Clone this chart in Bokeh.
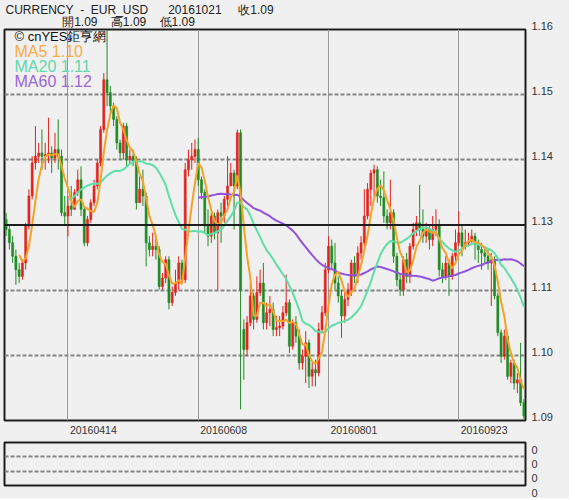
import numpy as np
import pandas as pd
from bokeh.plotting import figure
from bokeh.layouts import column
from bokeh.models import (ColumnDataSource, Range1d, FixedTicker, Span, Title, Label,
                          LinearAxis, CustomJSTickFormatter)
from bokeh.embed import file_html
from bokeh.resources import INLINE

# ---------------- data ----------------
symbol = "EUR_USD"
last_date = "20161021"

open_ = [
    1.1260, 1.1242, 1.1218, 1.1194, 1.1170, 1.1158, 1.1182, 1.1248, 1.1302, 1.1361,
    1.1373, 1.1379, 1.1373, 1.1376, 1.1379, 1.1370, 1.1385, 1.1373, 1.1272, 1.1266,
    1.1284, 1.1278, 1.1308, 1.1331, 1.1278, 1.1218, 1.1260, 1.1290, 1.1320, 1.1361,
    1.1421, 1.1510, 1.1487, 1.1463, 1.1439, 1.1397, 1.1379, 1.1427, 1.1367, 1.1373,
    1.1364, 1.1290, 1.1314, 1.1302, 1.1218, 1.1206, 1.1212, 1.1206, 1.1140, 1.1155,
    1.1188, 1.1111, 1.1129, 1.1146, 1.1182, 1.1152, 1.1349, 1.1367, 1.1373, 1.1385,
    1.1331, 1.1308, 1.1248, 1.1230, 1.1266, 1.1236, 1.1272, 1.1266, 1.1296, 1.1320,
    1.1343, 1.1320, 1.1415, 1.1063, 1.1027, 1.1075, 1.1123, 1.1081, 1.1129, 1.1146,
    1.1075, 1.1093, 1.1099, 1.1063, 1.1066, 1.1069, 1.1093, 1.1111, 1.1033, 1.1075,
    1.1051, 1.1003, 1.1015, 1.1039, 1.0979, 1.0991, 1.0985, 1.1063, 1.1093, 1.1170,
    1.1212, 1.1182, 1.1146, 1.1123, 1.1087, 1.1117, 1.1134, 1.1182, 1.1158, 1.1200,
    1.1218, 1.1266, 1.1314, 1.1343, 1.1349, 1.1302, 1.1299, 1.1266, 1.1254, 1.1272,
    1.1194, 1.1152, 1.1134, 1.1188, 1.1158, 1.1212, 1.1242, 1.1254, 1.1242, 1.1230,
    1.1242, 1.1224, 1.1242, 1.1248, 1.1170, 1.1158, 1.1182, 1.1158, 1.1194, 1.1218,
    1.1236, 1.1212, 1.1218, 1.1221, 1.1230, 1.1215, 1.1206, 1.1200, 1.1194, 1.1182,
    1.1188, 1.1123, 1.1057, 1.1015, 1.1051, 1.0979, 1.1003, 1.0967, 1.0973, 1.0932,
]
high = [
    1.1272, 1.1251, 1.1230, 1.1206, 1.1182, 1.1188, 1.1254, 1.1314, 1.1373, 1.1427,
    1.1397, 1.1421, 1.1397, 1.1442, 1.1391, 1.1415, 1.1439, 1.1385, 1.1302, 1.1302,
    1.1320, 1.1314, 1.1349, 1.1355, 1.1284, 1.1266, 1.1296, 1.1331, 1.1367, 1.1427,
    1.1522, 1.1600, 1.1499, 1.1469, 1.1445, 1.1403, 1.1433, 1.1433, 1.1385, 1.1385,
    1.1373, 1.1337, 1.1349, 1.1308, 1.1230, 1.1236, 1.1230, 1.1212, 1.1164, 1.1194,
    1.1194, 1.1140, 1.1170, 1.1194, 1.1188, 1.1361, 1.1385, 1.1397, 1.1403, 1.1406,
    1.1337, 1.1314, 1.1278, 1.1272, 1.1272, 1.1278, 1.1290, 1.1302, 1.1373, 1.1361,
    1.1349, 1.1421, 1.1421, 1.1081, 1.1087, 1.1146, 1.1129, 1.1158, 1.1170, 1.1182,
    1.1111, 1.1123, 1.1111, 1.1087, 1.1087, 1.1105, 1.1161, 1.1117, 1.1081, 1.1087,
    1.1063, 1.1027, 1.1060, 1.1045, 1.1003, 1.1009, 1.1075, 1.1105, 1.1182, 1.1230,
    1.1224, 1.1218, 1.1158, 1.1134, 1.1129, 1.1146, 1.1188, 1.1194, 1.1212, 1.1230,
    1.1314, 1.1325, 1.1349, 1.1358, 1.1355, 1.1331, 1.1346, 1.1278, 1.1331, 1.1278,
    1.1200, 1.1164, 1.1194, 1.1200, 1.1218, 1.1254, 1.1266, 1.1322, 1.1278, 1.1254,
    1.1248, 1.1266, 1.1278, 1.1260, 1.1182, 1.1194, 1.1188, 1.1200, 1.1242, 1.1275,
    1.1248, 1.1242, 1.1236, 1.1242, 1.1236, 1.1224, 1.1218, 1.1212, 1.1206, 1.1200,
    1.1194, 1.1129, 1.1063, 1.1063, 1.1057, 1.1009, 1.1009, 1.0985, 1.1039, 1.0938,
]
low = [
    1.1230, 1.1206, 1.1182, 1.1143, 1.1146, 1.1152, 1.1170, 1.1242, 1.1296, 1.1349,
    1.1361, 1.1349, 1.1349, 1.1361, 1.1343, 1.1361, 1.1349, 1.1266, 1.1248, 1.1230,
    1.1266, 1.1278, 1.1302, 1.1266, 1.1212, 1.1212, 1.1254, 1.1284, 1.1314, 1.1355,
    1.1415, 1.1463, 1.1445, 1.1427, 1.1385, 1.1367, 1.1367, 1.1355, 1.1361, 1.1355,
    1.1278, 1.1290, 1.1284, 1.1176, 1.1194, 1.1194, 1.1188, 1.1134, 1.1134, 1.1146,
    1.1099, 1.1105, 1.1123, 1.1134, 1.1146, 1.1146, 1.1337, 1.1349, 1.1361, 1.1320,
    1.1296, 1.1236, 1.1212, 1.1218, 1.1224, 1.1134, 1.1218, 1.1254, 1.1284, 1.1320,
    1.1242, 1.1314, 1.0920, 1.0973, 1.1015, 1.1069, 1.1063, 1.1075, 1.1123, 1.1063,
    1.1063, 1.1069, 1.1051, 1.1051, 1.1051, 1.1063, 1.1087, 1.1021, 1.1027, 1.1039,
    1.0991, 1.0991, 1.0967, 1.0958, 1.0961, 1.0961, 1.0979, 1.1057, 1.1087, 1.1164,
    1.1170, 1.1134, 1.1111, 1.1048, 1.1075, 1.1105, 1.1123, 1.1146, 1.1146, 1.1188,
    1.1212, 1.1260, 1.1284, 1.1302, 1.1290, 1.1284, 1.1254, 1.1242, 1.1242, 1.1182,
    1.1140, 1.1123, 1.1123, 1.1146, 1.1146, 1.1206, 1.1230, 1.1230, 1.1218, 1.1218,
    1.1206, 1.1212, 1.1230, 1.1158, 1.1146, 1.1152, 1.1123, 1.1152, 1.1182, 1.1212,
    1.1194, 1.1206, 1.1212, 1.1218, 1.1188, 1.1182, 1.1170, 1.1182, 1.1170, 1.1105,
    1.1117, 1.1051, 1.1003, 1.1009, 1.0973, 1.0967, 1.0955, 1.0949, 1.0926, 1.0902,
]
close = [
    1.1242, 1.1218, 1.1194, 1.1170, 1.1158, 1.1182, 1.1248, 1.1302, 1.1361, 1.1373,
    1.1379, 1.1373, 1.1376, 1.1379, 1.1370, 1.1385, 1.1373, 1.1272, 1.1266, 1.1284,
    1.1278, 1.1308, 1.1331, 1.1278, 1.1218, 1.1260, 1.1290, 1.1320, 1.1361, 1.1421,
    1.1510, 1.1487, 1.1463, 1.1439, 1.1397, 1.1379, 1.1427, 1.1367, 1.1373, 1.1364,
    1.1290, 1.1314, 1.1302, 1.1218, 1.1206, 1.1212, 1.1206, 1.1140, 1.1155, 1.1188,
    1.1111, 1.1129, 1.1146, 1.1182, 1.1152, 1.1349, 1.1367, 1.1373, 1.1385, 1.1331,
    1.1308, 1.1248, 1.1230, 1.1266, 1.1236, 1.1272, 1.1266, 1.1296, 1.1320, 1.1343,
    1.1320, 1.1415, 1.1134, 1.1027, 1.1075, 1.1123, 1.1081, 1.1129, 1.1146, 1.1075,
    1.1093, 1.1099, 1.1063, 1.1066, 1.1069, 1.1093, 1.1111, 1.1033, 1.1075, 1.1051,
    1.1003, 1.1015, 1.1039, 1.0979, 1.0991, 1.0985, 1.1063, 1.1093, 1.1170, 1.1212,
    1.1182, 1.1146, 1.1123, 1.1087, 1.1117, 1.1134, 1.1182, 1.1158, 1.1200, 1.1218,
    1.1266, 1.1314, 1.1343, 1.1349, 1.1302, 1.1299, 1.1266, 1.1254, 1.1272, 1.1194,
    1.1152, 1.1134, 1.1188, 1.1158, 1.1212, 1.1242, 1.1254, 1.1242, 1.1230, 1.1242,
    1.1224, 1.1242, 1.1248, 1.1170, 1.1158, 1.1182, 1.1158, 1.1194, 1.1218, 1.1236,
    1.1212, 1.1218, 1.1221, 1.1230, 1.1215, 1.1206, 1.1200, 1.1194, 1.1182, 1.1188,
    1.1123, 1.1057, 1.1015, 1.1051, 1.0979, 1.1003, 1.0967, 1.0973, 1.0932, 1.0908,
]

tick_bars = [19, 59, 99, 139]
tick_dates = ["20160414", "20160608", "20160801", "20160923"]
price_ticks = [1.09, 1.101667, 1.113333, 1.125, 1.136667, 1.148333, 1.16]
ma_periods = [5, 20, 60]
ma_colors = ["#F5A228", "#5EDFA9", "#9152DC"]
ma_text_colors = ["#F7AC45", "#62D8AC", "#9A68D2"]
sub_ticks = [0, 1, 2, 3]
sub_tick_labels = ["0", "0", "0", "0"]

# ---------------- styling ----------------
BG = "#F0F0F0"
FRAME = "#1E1E1E"
RED = "#E3231D"
GREEN = "#1F8B24"
FONT = "Liberation Sans"
NB = "\u00a0"
FW, FH = 521, 391
DATE_SHIFT = 7.8   # date labels sit to the right of their grid line (in bar units)

n = len(close)
idx = np.arange(n)
o = np.array(open_)
c = np.array(close)
h = np.array(high)
l = np.array(low)
colors = np.where(c >= o, RED, GREEN)
src = ColumnDataSource(dict(x=idx, h=h, l=l, top=np.maximum(o, c),
                            bottom=np.minimum(o, c), color=colors))

x0, x1 = -0.5, n - 0.5
p = figure(frame_width=FW, frame_height=FH,
           x_range=Range1d(x0, x1), y_range=Range1d(price_ticks[0], price_ticks[-1]),
           output_backend="svg", toolbar_location=None,
           y_axis_location="right", x_axis_location=None,
           min_border_left=4, min_border_right=44, min_border_top=0, min_border_bottom=2,
           background_fill_color=BG, border_fill_color=BG,
           outline_line_color=FRAME, outline_line_width=2, outline_line_alpha=1.0)

# header (two lines)
header = (f"CURRENCY{NB*2}-{NB*2}{symbol}{NB*6}{last_date}{NB*5}收{c[-1]:.2f}\n"
          f"{NB*17}開{o[-1]:.2f}{NB*4}高{h[-1]:.2f}{NB*4}低{l[-1]:.2f}")
p.add_layout(Title(text=header, text_font_size="12px", text_font_style="normal",
                   text_font=FONT, text_color="#222222", align="left", offset=1,
                   standoff=1, text_line_height=0.85), "above")

# grids
p.xgrid.ticker = FixedTicker(ticks=tick_bars)
p.xgrid.grid_line_color = "#9A9A9A"
p.xgrid.grid_line_width = 1
p.ygrid.ticker = FixedTicker(ticks=[price_ticks[i] for i in (1, 2, 4, 5)])
p.ygrid.grid_line_color = "#858585"
p.ygrid.grid_line_width = 2
p.ygrid.grid_line_dash = "4 2"
p.add_layout(Span(location=price_ticks[3], dimension="width",
                  line_color=FRAME, line_width=2))

# candles
p.segment(x0="x", y0="l", x1="x", y1="h", line_color="color", line_width=1, source=src)
p.vbar(x="x", width=0.62, top="top", bottom="bottom", fill_color="color",
       line_color="color", line_width=0.6, source=src)

# moving averages
mas = {per: pd.Series(c).rolling(per).mean().to_numpy() for per in ma_periods}
for per, col in sorted(zip(ma_periods, ma_colors), reverse=True):
    p.line(idx, mas[per], line_color=col, line_width=2)

# legend texts
p.add_layout(Label(x=10, y=FH - 7, x_units="screen", y_units="screen",
                   text="© cnYES鉅亨網", text_font_size="13px", text_font=FONT,
                   text_color="#111111", text_baseline="middle"))
for k, (per, tcol) in enumerate(zip(ma_periods, ma_text_colors)):
    p.add_layout(Label(x=10, y=FH - 22 - 15 * k, x_units="screen", y_units="screen",
                       text=f"MA{per} {mas[per][-1]:.2f}", text_font_size="16px",
                       text_font=FONT, text_color=tcol, text_baseline="middle"))

# price axis (labels sit slightly above their lines)
p.yaxis.ticker = FixedTicker(ticks=price_ticks)
p.yaxis.formatter = CustomJSTickFormatter(
    args=dict(lowest=price_ticks[0]),
    code="var s = (Math.round(tick*100)/100).toFixed(2); "
         "return tick > lowest + 1e-6 ? s + '\\n' : s;")
p.yaxis.axis_line_color = None
p.yaxis.major_tick_line_color = None
p.yaxis.minor_tick_line_color = None
p.yaxis.major_label_text_font = FONT
p.yaxis.major_label_text_color = "#333333"
p.yaxis.major_label_text_font_size = "11px"
p.yaxis.major_label_text_line_height = 0.6
p.yaxis.major_label_standoff = 0

# lower (empty) indicator panel, with the date axis above it
q = figure(frame_width=FW, frame_height=43,
           x_range=p.x_range, y_range=Range1d(sub_ticks[0], sub_ticks[-1]),
           output_backend="svg", toolbar_location=None,
           y_axis_location="right", x_axis_location=None,
           min_border_left=4, min_border_right=44, min_border_top=15, min_border_bottom=13,
           background_fill_color=BG, border_fill_color=BG,
           outline_line_color=FRAME, outline_line_width=2, outline_line_alpha=1.0)
q.extra_x_ranges = {"dates": Range1d(x0 - DATE_SHIFT, x1 - DATE_SHIFT)}
date_axis = LinearAxis(x_range_name="dates", ticker=FixedTicker(ticks=tick_bars),
                       major_label_overrides={b: d for b, d in zip(tick_bars, tick_dates)},
                       axis_line_color=None, major_tick_line_color=None,
                       minor_tick_line_color=None, major_label_standoff=3,
                       major_label_text_font=FONT, major_label_text_font_size="10.5px",
                       major_label_text_color="#333333")
q.add_layout(date_axis, "above")
q.xgrid.visible = False
q.ygrid.ticker = FixedTicker(ticks=sub_ticks[1:-1])
q.ygrid.grid_line_color = "#858585"
q.ygrid.grid_line_width = 2
q.ygrid.grid_line_dash = "4 2"
q.yaxis.ticker = FixedTicker(ticks=sub_ticks)
q.yaxis.major_label_overrides = {t: "\n" + s for t, s in zip(sub_ticks, sub_tick_labels)}
q.yaxis.axis_line_color = None
q.yaxis.major_tick_line_color = None
q.yaxis.minor_tick_line_color = None
q.yaxis.major_label_text_font = FONT
q.yaxis.major_label_text_font_size = "11px"
q.yaxis.major_label_text_color = "#333333"
q.yaxis.major_label_standoff = 0

layout = column(p, q, spacing=0, styles={"background-color": BG})
open("out.html", "w").write(file_html(layout, INLINE))
